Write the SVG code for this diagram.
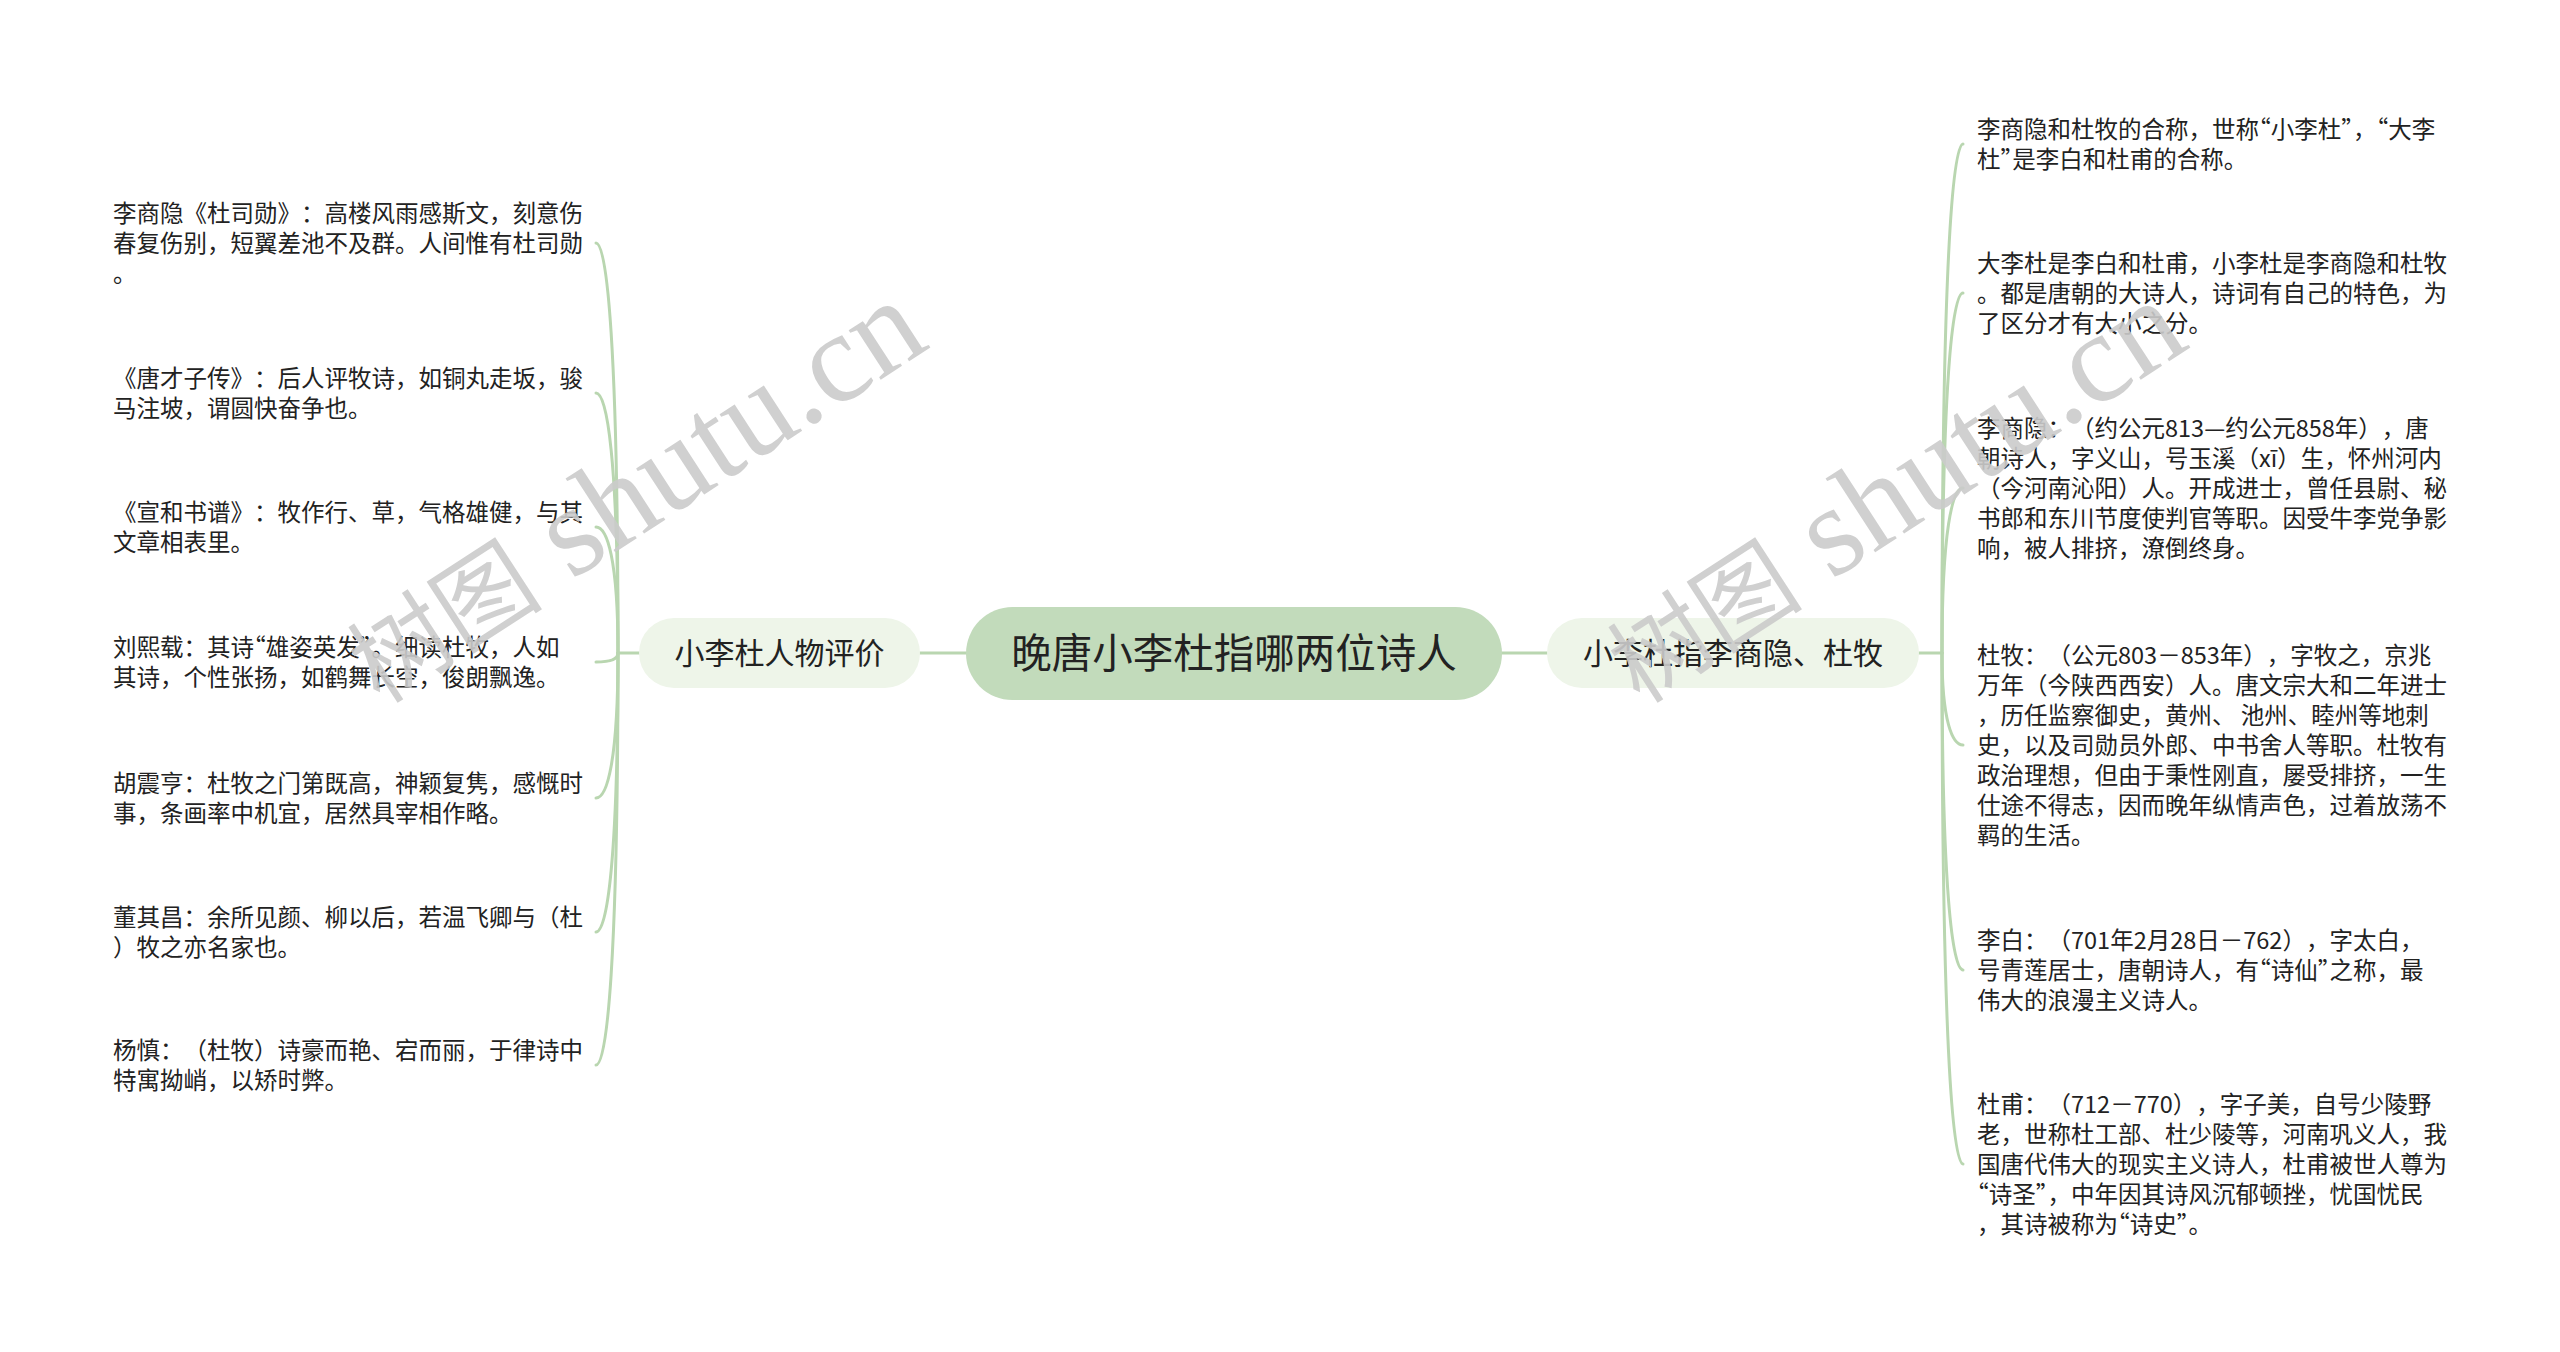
<svg xmlns="http://www.w3.org/2000/svg" width="2560" height="1352" viewBox="0 0 2560 1352">
<style>
.bg{fill:#ffffff}
.conn{fill:none;stroke:#b9d6b0;stroke-width:3;stroke-linecap:round}
.center{fill:#c2dbbb}
.sub{fill:#eef5e9}
text{text-spacing-trim:space-all}
.ctext{font-family:"Noto Sans CJK SC",sans-serif;font-size:40.5px;fill:#222;text-anchor:middle}
.stext{font-family:"Noto Sans CJK SC",sans-serif;font-size:30px;fill:#222;text-anchor:middle}
.leaf{font-family:"Noto Sans CJK SC",sans-serif;font-size:23.5px;fill:#222}
.q{font-feature-settings:"halt" 1}
.wm{font-family:"Liberation Serif","Noto Sans CJK SC",serif;font-size:128px;fill:#cbcbcb;opacity:0.9}
.wmc{font-size:98px}
</style>
<rect class="bg" x="0" y="0" width="2560" height="1352"/>
<g id="connectors">
<path class="conn" d="M920,653 L966,653"/>
<path class="conn" d="M1502,653 L1547,653"/>
<path class="conn" d="M639,653 L618,653"/>
<path class="conn" d="M1919,653 L1942,653"/>
<path class="conn" d="M618,653 C618,345.5 607,243 596,243"/>
<path class="conn" d="M618,653 C618,458 607,393 596,393"/>
<path class="conn" d="M618,653 C618,558.5 607,527 596,527"/>
<path class="conn" d="M618,653 C618,660 607,662 596,662"/>
<path class="conn" d="M618,653 C618,761.75 607,798 596,798"/>
<path class="conn" d="M618,653 C618,862.25 607,932 596,932"/>
<path class="conn" d="M618,653 C618,962 607,1065 596,1065"/>
<path class="conn" d="M1942,653 C1942,271.25 1952.5,144 1963,144"/>
<path class="conn" d="M1942,653 C1942,383 1952.5,293 1963,293"/>
<path class="conn" d="M1942,653 C1942,529.25 1952.5,488 1963,488"/>
<path class="conn" d="M1942,653 C1942,722 1952.5,745 1963,745"/>
<path class="conn" d="M1942,653 C1942,890.75 1952.5,970 1963,970"/>
<path class="conn" d="M1942,653 C1942,1036.25 1952.5,1164 1963,1164"/>
</g>
<g id="root">
<rect class="center" x="966" y="607" width="536" height="93" rx="46.5"/>
<text class="ctext" x="1234" y="668">晚唐小李杜指哪两位诗人</text>
</g>
<g id="left-branch">
<rect class="sub" x="639" y="618" width="281" height="70" rx="35"/>
<text class="stext" x="779.5" y="664">小李杜人物评价</text>
</g>
<g id="right-branch">
<rect class="sub" x="1547" y="618" width="372" height="70" rx="35"/>
<text class="stext" x="1733" y="664">小李杜指李商隐、杜牧</text>
</g>
<g id="l1"><text class="leaf"><tspan x="113" y="222">李商隐《杜司勋》：高楼风雨感斯文，刻意伤</tspan><tspan x="113" y="252">春复伤别，短翼差池不及群。人间惟有杜司勋</tspan><tspan x="113" y="282">。</tspan></text></g>
<g id="l2"><text class="leaf"><tspan x="113" y="387">《唐才子传》：后人评牧诗，如铜丸走坂，骏</tspan><tspan x="113" y="417">马注坡，谓圆快奋争也。</tspan></text></g>
<g id="l3"><text class="leaf"><tspan x="113" y="521">《宣和书谱》：牧作行、草，气格雄健，与其</tspan><tspan x="113" y="551">文章相表里。</tspan></text></g>
<g id="l4"><text class="leaf"><tspan x="113" y="656">刘熙载：其诗<tspan class="q">“</tspan>雄姿英发<tspan class="q">”</tspan>。细读杜牧，人如</tspan><tspan x="113" y="686">其诗，个性张扬，如鹤舞长空，俊朗飘逸。</tspan></text></g>
<g id="l5"><text class="leaf"><tspan x="113" y="792">胡震亨：杜牧之门第既高，神颖复隽，感慨时</tspan><tspan x="113" y="822">事，条画率中机宜，居然具宰相作略。</tspan></text></g>
<g id="l6"><text class="leaf"><tspan x="113" y="926">董其昌：余所见颜、柳以后，若温飞卿与（杜</tspan><tspan x="113" y="956">）牧之亦名家也。</tspan></text></g>
<g id="l7"><text class="leaf"><tspan x="113" y="1059">杨慎：（杜牧）诗豪而艳、宕而丽，于律诗中</tspan><tspan x="113" y="1089">特寓拗峭，以矫时弊。</tspan></text></g>
<g id="r1"><text class="leaf"><tspan x="1977" y="138">李商隐和杜牧的合称，世称<tspan class="q">“</tspan>小李杜<tspan class="q">”</tspan>，<tspan class="q">“</tspan>大李</tspan><tspan x="1977" y="168">杜<tspan class="q">”</tspan>是李白和杜甫的合称。</tspan></text></g>
<g id="r2"><text class="leaf"><tspan x="1977" y="272">大李杜是李白和杜甫，小李杜是李商隐和杜牧</tspan><tspan x="1977" y="302">。都是唐朝的大诗人，诗词有自己的特色，为</tspan><tspan x="1977" y="332">了区分才有大小之分。</tspan></text></g>
<g id="r3"><text class="leaf"><tspan x="1977" y="437">李商隐：（约公元813—约公元858年），唐</tspan><tspan x="1977" y="467">朝诗人，字义山，号玉溪（xī）生，怀州河内</tspan><tspan x="1977" y="497">（今河南沁阳）人。开成进士，曾任县尉、秘</tspan><tspan x="1977" y="527">书郎和东川节度使判官等职。因受牛李党争影</tspan><tspan x="1977" y="557">响，被人排挤，潦倒终身。</tspan></text></g>
<g id="r4"><text class="leaf" xml:space="preserve"><tspan x="1977" y="664">杜牧：（公元803－853年），字牧之，京兆</tspan><tspan x="1977" y="694">万年（今陕西西安）人。唐文宗大和二年进士</tspan><tspan x="1977" y="724">，历任监察御史，黄州、 池州、睦州等地刺</tspan><tspan x="1977" y="754">史，以及司勋员外郎、中书舍人等职。杜牧有</tspan><tspan x="1977" y="784">政治理想，但由于秉性刚直，屡受排挤，一生</tspan><tspan x="1977" y="814">仕途不得志，因而晚年纵情声色，过着放荡不</tspan><tspan x="1977" y="844">羁的生活。</tspan></text></g>
<g id="r5"><text class="leaf"><tspan x="1977" y="949">李白：（701年2月28日－762），字太白，</tspan><tspan x="1977" y="979">号青莲居士，唐朝诗人，有<tspan class="q">“</tspan>诗仙<tspan class="q">”</tspan>之称，最</tspan><tspan x="1977" y="1009">伟大的浪漫主义诗人。</tspan></text></g>
<g id="r6"><text class="leaf"><tspan x="1977" y="1113">杜甫：（712－770），字子美，自号少陵野</tspan><tspan x="1977" y="1143">老，世称杜工部、杜少陵等，河南巩义人，我</tspan><tspan x="1977" y="1173">国唐代伟大的现实主义诗人，杜甫被世人尊为</tspan><tspan x="1977" y="1203"><tspan class="q">“</tspan>诗圣<tspan class="q">”</tspan>，中年因其诗风沉郁顿挫，忧国忧民</tspan><tspan x="1977" y="1233">，其诗被称为<tspan class="q">“</tspan>诗史<tspan class="q">”</tspan>。</tspan></text></g>
<g id="watermarks">
<text class="wm" x="380" y="705" transform="rotate(-33 380 705)"><tspan class="wmc">树图</tspan> shutu.cn</text>
<text class="wm" x="1640" y="705" transform="rotate(-33 1640 705)"><tspan class="wmc">树图</tspan> shutu.cn</text>
</g>
</svg>
